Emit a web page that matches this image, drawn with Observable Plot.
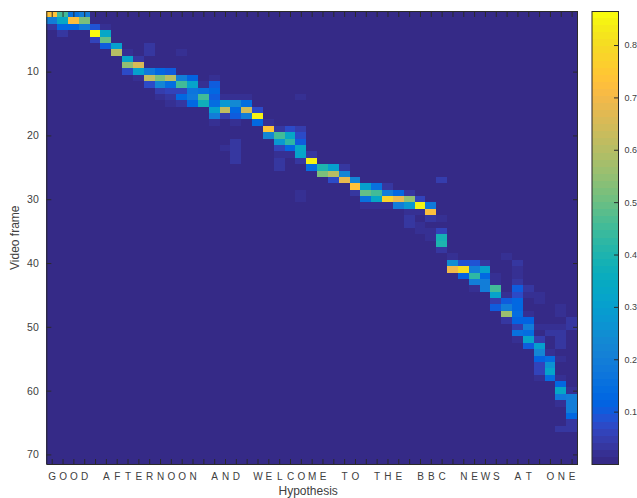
<!DOCTYPE html>
<html><head><meta charset="utf-8">
<script src="https://cdn.jsdelivr.net/npm/d3@7"></script>
<script src="https://cdn.jsdelivr.net/npm/@observablehq/plot@0.6"></script>
<style>
html,body{margin:0;padding:0;background:#fff;overflow:hidden}
#chart{position:relative;width:637px;height:498px}
#chart svg{position:absolute;top:0;display:block;background:transparent;overflow:visible}
</style></head><body><div id="chart"></div>
<script>
const hypothesis = "GOOD AFTERNOON AND WELCOME TO THE BBC NEWS AT ONE";
const frameTicks = [10,20,30,40,50,60,70];
const barTicks = [0.1,0.2,0.3,0.4,0.5,0.6,0.7,0.8];
const maxValue = 0.865;
// one entry per video frame: [hypothesis position, attention]
const attention = [
/*1*/ [[1,.74],[2,.45],[3,.15],[4,.2]],
/*2*/ [[1,.2],[2,.33],[3,.72],[4,.52]],
/*3*/ [[1,.03],[2,.13],[3,.13],[4,.2],[5,.09],[6,.02]],
/*4*/ [[2,.035],[5,.86],[6,.33]],
/*5*/ [[5,.06],[6,.5]],
/*6*/ [[6,.1],[7,.3],[10,.03]],
/*7*/ [[7,.6],[8,.015],[10,.03],[13,.02]],
/*8*/ [[8,.32],[9,.04]],
/*9*/ [[8,.55],[9,.65]],
/*10*/ [[8,.07],[9,.3],[10,.18],[11,.13],[12,.1]],
/*11*/ [[9,.015],[10,.62],[11,.52],[12,.6],[13,.2],[14,.12],[16,.02]],
/*12*/ [[10,.08],[11,.22],[12,.14],[13,.45],[14,.32],[15,.02],[16,.1]],
/*13*/ [[11,.045],[12,.06],[13,.06],[14,.17],[15,.15],[16,.13]],
/*14*/ [[11,.02],[12,.035],[13,.13],[14,.18],[15,.45],[16,.1],[17,.02],[18,.02],[19,.015],[24,.02]],
/*15*/ [[12,.02],[13,.035],[14,.13],[15,.37],[16,.14],[17,.28],[18,.23],[19,.14]],
/*16*/ [[16,.31],[17,.62],[18,.13],[19,.64],[20,.07]],
/*17*/ [[16,.2],[17,.05],[18,.1],[19,.2],[20,.85]],
/*18*/ [[16,.02],[18,.02],[20,.13],[21,.015]],
/*19*/ [[21,.74],[22,.035],[23,.08],[24,.05]],
/*20*/ [[21,.22],[22,.45],[23,.33],[24,.07]],
/*21*/ [[18,.035],[22,.28],[23,.42],[24,.1]],
/*22*/ [[17,.015],[18,.035],[22,.06],[23,.13],[24,.33]],
/*23*/ [[18,.035],[22,.015],[23,.02],[24,.32],[25,.035]],
/*24*/ [[18,.035],[22,.035],[24,.03],[25,.85]],
/*25*/ [[22,.035],[25,.14],[26,.4],[27,.3],[28,.03]],
/*26*/ [[26,.52],[27,.6],[28,.22]],
/*27*/ [[27,.07],[28,.68],[29,.22],[37,.05]],
/*28*/ [[29,.74],[30,.3],[31,.15],[32,.03]],
/*29*/ [[24,.02],[29,.035],[30,.5],[31,.45],[32,.2],[33,.13],[34,.03]],
/*30*/ [[24,.02],[30,.15],[31,.33],[32,.78],[33,.68],[34,.55],[35,.06]],
/*31*/ [[30,.015],[31,.02],[32,.015],[33,.2],[34,.28],[35,.85],[36,.18]],
/*32*/ [[34,.02],[35,.015],[36,.72]],
/*33*/ [[34,.035],[36,.03],[37,.015]],
/*34*/ [[34,.035],[35,.02]],
/*35*/ [[35,.02],[36,.015],[37,.06]],
/*36*/ [[36,.015],[37,.38]],
/*37*/ [[37,.4]],
/*38*/ [[37,.03]],
/*39*/ [[38,.015],[43,.015]],
/*40*/ [[38,.25],[39,.09],[40,.09],[41,.04],[44,.03]],
/*41*/ [[38,.7],[39,.8],[40,.2],[41,.3],[44,.015]],
/*42*/ [[39,.12],[40,.42],[41,.13],[42,.015],[44,.015]],
/*43*/ [[40,.2],[41,.2],[42,.02],[44,.035]],
/*44*/ [[40,.015],[41,.2],[42,.45],[44,.1],[45,.03]],
/*45*/ [[42,.32],[43,.02],[44,.07],[45,.02],[46,.015]],
/*46*/ [[42,.05],[43,.1],[44,.13],[46,.015]],
/*47*/ [[42,.1],[43,.2],[44,.13],[48,.02]],
/*48*/ [[43,.56],[44,.14],[45,.02],[48,.02]],
/*49*/ [[43,.035],[44,.12],[45,.12],[49,.035]],
/*50*/ [[44,.05],[45,.19],[46,.02],[47,.02],[48,.02],[49,.035]],
/*51*/ [[44,.15],[45,.14],[47,.03],[48,.035]],
/*52*/ [[44,.015],[45,.32],[46,.05],[48,.035]],
/*53*/ [[45,.1],[46,.3],[48,.03]],
/*54*/ [[46,.22],[47,.02]],
/*55*/ [[46,.12],[47,.14],[48,.02]],
/*56*/ [[46,.06],[47,.27]],
/*57*/ [[46,.06],[47,.32]],
/*58*/ [[46,.02],[47,.14],[48,.02]],
/*59*/ [[48,.13]],
/*60*/ [[48,.33],[49,.015]],
/*61*/ [[48,.18],[49,.19]],
/*62*/ [[48,.02],[49,.2]],
/*63*/ [[49,.2]],
/*64*/ [[49,.13]],
/*65*/ [[49,.03]],
/*66*/ [[48,.035],[49,.035]],
/*67*/ [], /*68*/ [], /*69*/ [], /*70*/ [], /*71*/ []
];
const parulaRGB = [
[.2081,.1663,.5292],[.2116,.1898,.5777],[.2123,.2138,.6270],[.2081,.2386,.6771],[.1959,.2645,.7279],[.1707,.2919,.7792],[.1253,.3242,.8303],[.0591,.3598,.8683],
[.0117,.3875,.8820],[.0060,.4086,.8828],[.0165,.4266,.8786],[.0329,.4430,.8720],[.0498,.4586,.8641],[.0629,.4737,.8554],[.0723,.4887,.8467],[.0779,.5040,.8384],
[.0793,.5200,.8312],[.0749,.5375,.8263],[.0641,.5570,.8240],[.0488,.5772,.8228],[.0343,.5966,.8199],[.0265,.6137,.8135],[.0239,.6287,.8038],[.0231,.6418,.7913],
[.0228,.6535,.7768],[.0267,.6642,.7607],[.0384,.6743,.7436],[.0590,.6838,.7254],[.0843,.6928,.7062],[.1133,.7015,.6859],[.1453,.7098,.6646],[.1801,.7177,.6424],
[.2178,.7250,.6193],[.2586,.7317,.5954],[.3022,.7376,.5712],[.3482,.7424,.5473],[.3953,.7459,.5244],[.4420,.7481,.5033],[.4871,.7491,.4840],[.5300,.7491,.4661],
[.5709,.7485,.4494],[.6099,.7473,.4337],[.6473,.7456,.4188],[.6834,.7435,.4044],[.7184,.7411,.3905],[.7525,.7384,.3768],[.7858,.7356,.3633],[.8185,.7327,.3498],
[.8507,.7299,.3360],[.8824,.7274,.3217],[.9139,.7258,.3063],[.9450,.7261,.2886],[.9739,.7314,.2666],[.9938,.7455,.2403],[.9990,.7653,.2164],[.9955,.7861,.1967],
[.9880,.8066,.1794],[.9789,.8271,.1633],[.9697,.8481,.1475],[.9626,.8705,.1309],[.9589,.8949,.1132],[.9598,.9218,.0948],[.9661,.9514,.0755],[.9763,.9831,.0538]];

const parula = parulaRGB.map(([r,g,b]) => d3.rgb(r*255,g*255,b*255).formatHex());
const step = maxValue / parula.length;
const thresholds = d3.range(1, parula.length).map(i => i * step);
const colorScale = {type:"threshold", domain:thresholds, range:parula};
const letters = Array.from(hypothesis);
const columns = letters.map((_, i) => i + 1);
const frames = attention.map((_, i) => i + 1);
const cells = frames.flatMap(f => {
  const m = new Map(attention[f-1]);
  return columns.map(c => ({frame:f, col:c, value:m.get(c) ?? 0}));
});
const ink = "#2b2b2b";
const textInk = "#404040";
const font = "'Liberation Sans', Arial, sans-serif";

const main = Plot.plot({
  width:637, height:498,
  marginLeft:46.3, marginRight:60, marginTop:11, marginBottom:34,
  style:{fontFamily:font, background:"transparent", color:textInk},
  x:{type:"band", domain:columns, padding:0, round:false, label:null},
  y:{type:"band", domain:frames, padding:0, round:false, label:null},
  color:colorScale,
  marks:[
    Plot.cell(cells,{x:"col",y:"frame",fill:"value",shapeRendering:"crispEdges"}),
    Plot.frame({stroke:ink,strokeWidth:1}),
    Plot.axisX({anchor:"bottom",tickSize:-5,tickPadding:13.5,fontSize:10,stroke:ink,fill:textInk,tickFormat:d=>letters[d-1],label:null}),
    Plot.axisX({anchor:"top",tickSize:-5,tickFormat:null,text:null,stroke:ink,label:null}),
    Plot.axisY({anchor:"left",ticks:frameTicks,tickSize:-5,tickPadding:13,fontSize:10.5,fill:textInk,stroke:ink,label:null}),
    Plot.axisY({anchor:"right",ticks:frameTicks,tickSize:-5,text:null,stroke:ink,label:null}),
    Plot.text(["Hypothesis"],{frameAnchor:"bottom",dx:-4,dy:30.5,fontSize:12,fill:textInk}),
    Plot.text(["Video frame"],{frameAnchor:"left",dx:-32,dy:32,rotate:-90,fontSize:12,fill:textInk})
  ]
});
main.style.left = "0px";

const levels = parula.map((_, i) => ({lo:i*step, hi:(i+1)*step, mid:(i+0.5)*step}));
const bar = Plot.plot({
  width:46, height:498,
  marginLeft:0.5, marginRight:19, marginTop:11, marginBottom:34,
  style:{fontFamily:font, background:"transparent", color:textInk},
  x:{domain:[0,1],axis:null},
  y:{domain:[0,maxValue],label:null},
  color:colorScale,
  marks:[
    Plot.rect(levels,{x1:0,x2:1,y1:"lo",y2:"hi",fill:"mid",shapeRendering:"crispEdges"}),
    Plot.frame({stroke:ink,strokeWidth:1}),
    Plot.axisY({anchor:"right",ticks:barTicks,tickSize:-5,tickPadding:11,fontSize:9,fill:textInk,stroke:ink,label:null,tickFormat:d3.format(".1f")})
  ]
});
bar.style.left = "591px";
const host = document.getElementById("chart");
host.append(main, bar);
</script></body></html>
